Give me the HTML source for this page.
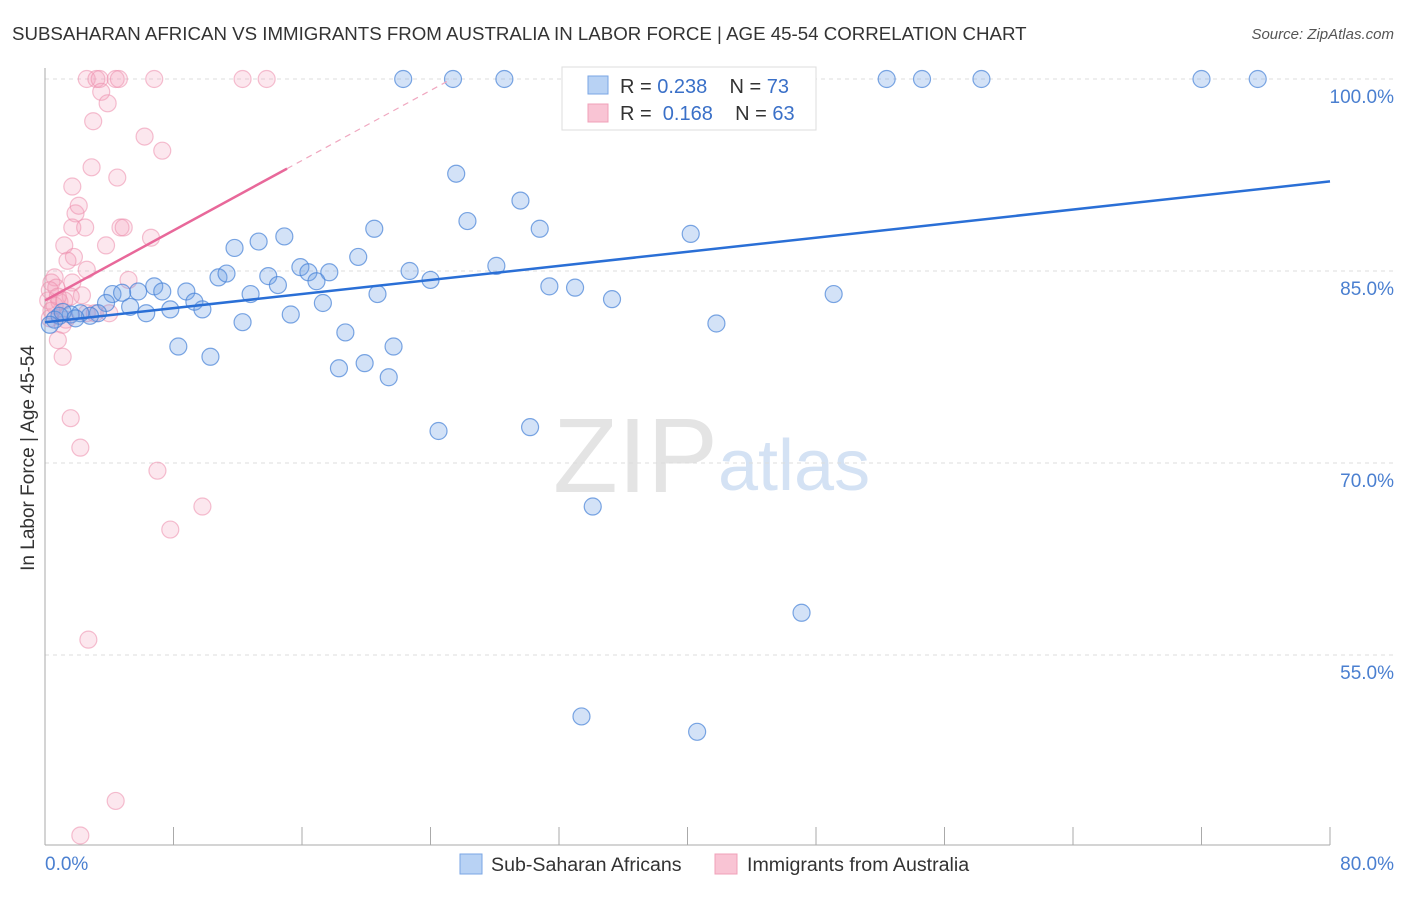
<!DOCTYPE html>
<html><head><meta charset="utf-8"><style>
body{margin:0;background:#fff;font-family:"Liberation Sans",sans-serif;}
svg text{font-family:"Liberation Sans",sans-serif;}
</style></head><body>
<svg id="chart" width="1406" height="892">
<text x="12" y="40" font-size="18.7" fill="#333">SUBSAHARAN AFRICAN VS IMMIGRANTS FROM AUSTRALIA IN LABOR FORCE | AGE 45-54 CORRELATION CHART</text>
<text x="1394" y="39" font-size="15" fill="#555" text-anchor="end" font-style="italic">Source: ZipAtlas.com</text>
<g>
<text x="553" y="492" font-size="106" fill="#e4e4e4" font-family="Liberation Serif">ZIP</text>
<text x="718" y="490" font-size="72" fill="#d4e2f4">atlas</text>
</g>
<g id="grid"></g>
<g id="axes"></g>
<g id="pink"></g>
<g id="blue"></g>
<g id="lines"></g>
<text x="34" y="458" font-size="19" fill="#333" text-anchor="middle" transform="rotate(-90 34 458)">In Labor Force | Age 45-54</text>
<text x="45" y="870" font-size="19" fill="#4a7fd0">0.0%</text>
<text x="1394" y="870" font-size="19" fill="#4a7fd0" text-anchor="end">80.0%</text>
<g>
<rect x="562" y="67" width="254" height="63" fill="#fff" stroke="#ddd"/>
<rect x="588" y="76" width="20" height="18" fill="#b8d2f4" stroke="#7aa6e4"/>
<rect x="588" y="104" width="20" height="18" fill="#f9c4d4" stroke="#f0a0b8"/>
<text x="620" y="93" font-size="20" fill="#333">R = <tspan fill="#3a70c8">0.238</tspan>&#160;&#160;&#160;&#160;N = <tspan fill="#3a70c8">73</tspan></text>
<text x="620" y="120" font-size="20" fill="#333">R =&#160;&#160;<tspan fill="#3a70c8">0.168</tspan>&#160;&#160;&#160;&#160;N = <tspan fill="#3a70c8">63</tspan></text>
</g>
<g>
<rect x="460" y="854" width="22" height="20" fill="#b8d2f4" stroke="#7aa6e4"/>
<text x="491" y="871" font-size="19.6" fill="#333">Sub-Saharan Africans</text>
<rect x="715" y="854" width="22" height="20" fill="#f9c4d4" stroke="#f0a0b8"/>
<text x="747" y="871" font-size="19.6" fill="#333">Immigrants from Australia</text>
</g>
</svg>
<script>
const yTicks=[100,85,70,55];
const yTickLabels=["100.0%","85.0%","70.0%","55.0%"];
const xTicks=[0,8,16,24,32,40,48,56,64,72,80];
const blueX=[22.3,25.4,28.6,43.3,52.4,54.6,58.3,72.0,75.5,25.6,29.6,26.3,30.8,40.2,20.5,14.9,13.3,11.8,19.5,15.9,16.4,17.7,22.7,28.1,13.9,10.8,11.3,14.5,16.9,24.0,31.4,33.0,35.3,49.1,20.7,12.8,6.8,7.3,8.8,5.8,4.2,4.8,9.3,3.8,9.8,7.8,5.3,6.3,17.3,15.3,12.3,41.8,18.7,3.3,2.8,2.2,1.6,0.9,0.6,0.3,8.3,10.3,21.7,19.9,18.3,21.4,24.5,30.2,34.1,47.1,33.4,40.6,1.1,1.9];
const blueY=[100,100,100,100,100,100,100,100,100,92.6,90.5,88.9,88.3,87.9,88.3,87.7,87.3,86.8,86.1,85.3,84.9,84.9,85.0,85.4,84.6,84.5,84.8,83.9,84.2,84.3,83.8,83.7,82.8,83.2,83.2,83.2,83.8,83.4,83.4,83.4,83.2,83.3,82.6,82.5,82.0,82.0,82.2,81.7,82.5,81.6,81.0,80.9,80.2,81.7,81.5,81.7,81.6,81.5,81.2,80.8,79.1,78.3,79.1,77.8,77.4,76.7,72.5,72.8,66.6,58.3,50.2,49.0,81.8,81.3];
const pinkX=[2.6,3.2,3.4,4.4,4.6,6.8,12.3,13.8,3.5,3.9,3.0,6.2,7.3,2.9,4.5,1.7,1.9,2.1,1.7,2.5,4.7,4.9,6.6,3.8,1.2,1.8,1.4,2.6,0.6,0.4,5.2,1.7,0.7,0.3,2.3,1.6,0.2,0.9,0.6,0.4,2.6,3.1,4.0,1.3,1.1,0.8,1.1,1.6,2.2,7.0,9.8,7.8,2.7,4.4,2.2,0.8,1.2,0.3];
const pinkY=[100,100,100,100,100,100,100,100,99.0,98.1,96.7,95.5,94.4,93.1,92.3,91.6,89.5,90.1,88.4,88.4,88.4,88.4,87.6,87.0,87.0,86.1,85.8,85.1,84.5,84.1,84.3,84.1,83.7,83.5,83.1,83.0,82.7,82.6,82.3,81.9,81.7,81.7,81.7,81.2,80.8,79.6,78.3,73.5,71.2,69.4,66.6,64.8,56.2,43.6,40.9,83.0,82.7,81.3];
const blueTrend=[81.0,92.0];
const pinkTrend=[82.7,93.0,15.07];
const NS="http://www.w3.org/2000/svg";
const X=v=>45+v/80*1285;
const Y=v=>79+(100-v)*12.8;
function mk(t,a,p){const e=document.createElementNS(NS,t);for(const k in a)e.setAttribute(k,a[k]);p.appendChild(e);return e;}
const grid=document.getElementById('grid'),axes=document.getElementById('axes');
yTicks.forEach((t,i)=>{
 const l=mk('line',{x1:45,x2:1394,y1:Y(t),y2:Y(t),stroke:'#ddd','stroke-dasharray':'4,4'},grid);
 
 
 const tx=mk('text',{x:1394,y:Y(t)+24,'font-size':19,fill:'#4a7fd0','text-anchor':'end'},axes);
 tx.textContent=yTickLabels[i];
 
 
});
const ya=mk('line',{x1:45,x2:45,y1:68,y2:845,stroke:'#aaa'},axes);


const xa=mk('line',{x1:45,x2:1330,y1:845,y2:845,stroke:'#aaa'},axes);


xTicks.forEach(t=>{
 const l=mk('line',{x1:X(t),x2:X(t),y1:827,y2:845,stroke:'#aaa'},axes);
 
 
});
const pg=document.getElementById('pink'),bg=document.getElementById('blue');
pinkX.forEach((x,i)=>{
 const c=mk('circle',{cx:X(x),cy:Y(pinkY[i]),r:8.5,fill:'rgba(244,160,186,0.25)',stroke:'rgba(236,140,172,0.55)','stroke-width':1.2},pg);
 
 
});
blueX.forEach((x,i)=>{
 const c=mk('circle',{cx:X(x),cy:Y(blueY[i]),r:8.5,fill:'rgba(110,160,230,0.3)',stroke:'rgba(70,130,215,0.7)','stroke-width':1.2},bg);
 
 
});
const lg=document.getElementById('lines');
const bl=mk('line',{x1:X(0),y1:Y(blueTrend[0]),x2:X(80),y2:Y(blueTrend[1]),stroke:'#2a6fd6','stroke-width':2.5},lg);


const slope=(pinkTrend[1]-pinkTrend[0])/pinkTrend[2];
const pl=mk('line',{x1:X(0),y1:Y(pinkTrend[0]),x2:X(pinkTrend[2]),y2:Y(pinkTrend[1]),stroke:'#e8689a','stroke-width':2.5},lg);


const xe=(100-pinkTrend[0])/slope;
const pd=mk('line',{x1:X(pinkTrend[2]),y1:Y(pinkTrend[1]),x2:X(xe),y2:Y(100),stroke:'#f0a8c0','stroke-width':1.2,'stroke-dasharray':'6,5'},lg);


</script>
</body></html>
